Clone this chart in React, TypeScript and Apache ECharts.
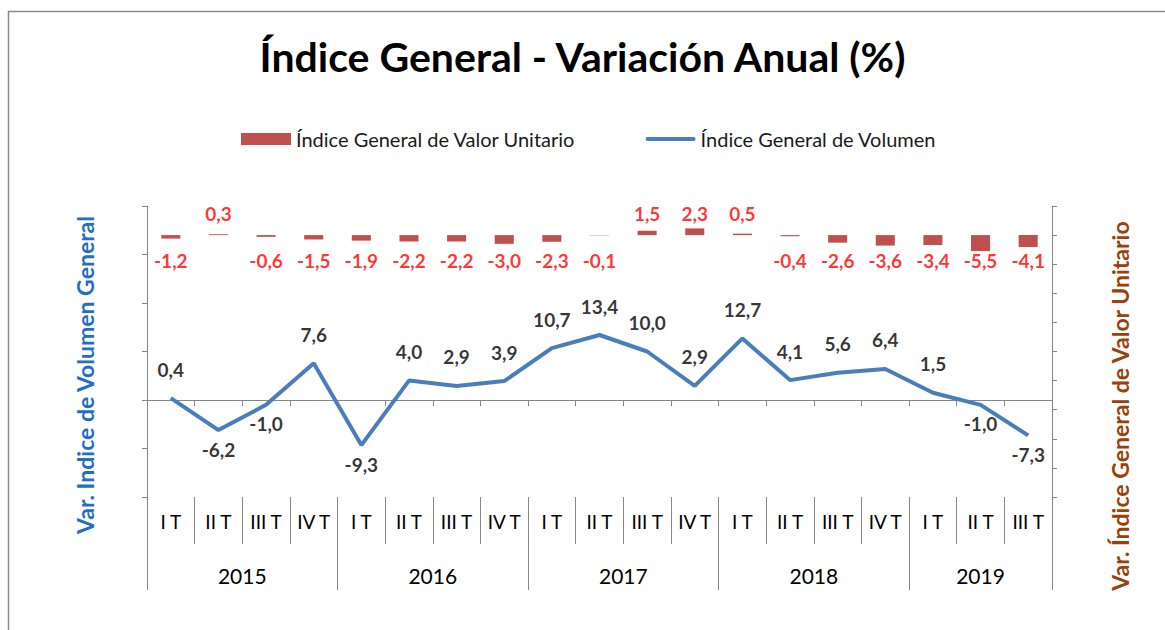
import React, { useEffect, useRef } from "react";
import * as echarts from "echarts";

const quarterLabels = [
  "I T", "II T", "III T", "IV T",
  "I T", "II T", "III T", "IV T",
  "I T", "II T", "III T", "IV T",
  "I T", "II T", "III T", "IV T",
  "I T", "II T", "III T",
];
const years = ["2015", "2016", "2017", "2018", "2019"];
const quartersPerYear = [4, 4, 4, 4, 3];

const volumen = [0.4, -6.2, -1.0, 7.6, -9.3, 4.0, 2.9, 3.9, 10.7, 13.4, 10.0, 2.9, 12.7, 4.1, 5.6, 6.4, 1.5, -1.0, -7.3];
const valorUnitario = [-1.2, 0.3, -0.6, -1.5, -1.9, -2.2, -2.2, -3.0, -2.3, -0.1, 1.5, 2.3, 0.5, -0.4, -2.6, -3.6, -3.4, -5.5, -4.1];

const FONT = "Lato, 'Open Sans', sans-serif";
const fmt = (v: number) => v.toFixed(1).replace(".", ",");

export default function App() {
  const ref = useRef<HTMLDivElement>(null);
  useEffect(() => {
    if (!ref.current) return;
    const chart = echarts.init(ref.current, null, { renderer: "svg" });

    // year row on a half-quarter slot axis
    const nSlots = quarterLabels.length * 2 + 1;
    const yearSlots: string[] = new Array(nSlots).fill("");
    const boundarySlots = new Set<number>();
    let start = 0;
    years.forEach((y, i) => {
      const q = quartersPerYear[i];
      yearSlots[2 * start + q] = y;
      boundarySlots.add(2 * start);
      start += q;
    });
    boundarySlots.add(2 * start);

    const axisGray = "#868686";

    chart.setOption({
      animation: false,
      backgroundColor: "#ffffff",
      title: {
        text: "Índice General - Variación Anual (%)",
        left: "center",
        top: 31,
        textStyle: { fontFamily: FONT, fontSize: 41, fontWeight: "bold", color: "#000" },
      },
      legend: {
        data: [
          { name: "Índice General de Valor Unitario", icon: "rect" },
          {
            name: "Índice General de Volumen",
            icon: "path://M2,0 L48,0 A2,2 0 0 1 48,4 L2,4 A2,2 0 0 1 2,0 Z",
          },
        ],
        symbolKeepAspect: true,
        left: 236,
        top: 124,
        itemWidth: 50,
        itemHeight: 12,
        itemGap: 70,
        textStyle: { fontFamily: FONT, fontSize: 20, color: "#1a1a1a" },
      },
      grid: { left: 147, right: 113, top: 206, bottom: 133, containLabel: false },
      xAxis: [
        {
          type: "category",
          data: quarterLabels,
          axisLine: { show: true, onZero: true, onZeroAxisIndex: 0, lineStyle: { color: axisGray, width: 1 } },
          axisTick: { show: true, length: 6, interval: 0, lineStyle: { color: axisGray } },
          axisLabel: { show: false },
          splitLine: { show: false },
        },
        {
          type: "category",
          data: quarterLabels,
          position: "bottom",
          axisLine: { show: false, onZero: false },
          axisTick: { show: true, length: 47, interval: 0, lineStyle: { color: axisGray } },
          axisLabel: { show: true, interval: 0, margin: 15, fontFamily: FONT, fontSize: 19, color: "#000" },
          splitLine: { show: false },
        },
        {
          type: "category",
          data: yearSlots,
          boundaryGap: false,
          position: "bottom",
          axisLine: { show: false, onZero: false },
          axisTick: {
            show: true,
            length: 93,
            interval: (i: number) => boundarySlots.has(i),
            lineStyle: { color: axisGray },
          },
          axisLabel: { show: true, interval: 0, margin: 68, fontFamily: FONT, fontSize: 21, color: "#000" },
          splitLine: { show: false },
        },
      ],
      yAxis: [
        {
          type: "value",
          min: -20,
          max: 40,
          interval: 10,
          position: "left",
          axisLine: { show: true, lineStyle: { color: axisGray } },
          axisTick: { show: true, length: 5, lineStyle: { color: axisGray } },
          axisLabel: { show: false },
          splitLine: { show: false },
        },
        {
          type: "value",
          min: -90,
          max: 10,
          interval: 10,
          position: "right",
          axisLine: { show: true, lineStyle: { color: axisGray } },
          axisTick: { show: true, length: 5, lineStyle: { color: axisGray } },
          axisLabel: { show: false },
          splitLine: { show: false },
        },
      ],
      series: [
        {
          name: "Índice General de Valor Unitario",
          type: "bar",
          xAxisIndex: 0,
          yAxisIndex: 1,
          data: valorUnitario,
          barWidth: "40%",
          itemStyle: { color: "#C0504D" },
        },
        {
          name: "Índice General de Volumen",
          type: "line",
          xAxisIndex: 0,
          yAxisIndex: 0,
          data: volumen,
          symbol: "none",
          showSymbol: false,
          lineStyle: { color: "#4A7EBB", width: 4 },
          itemStyle: { color: "#4A7EBB" },
          z: 3,
        },
        {
          name: "volLabels",
          type: "scatter",
          xAxisIndex: 0,
          yAxisIndex: 0,
          silent: true,
          symbolSize: 1,
          itemStyle: { color: "transparent" },
          data: volumen.map((v) => ({
            value: v,
            label: { position: v < 0 ? "bottom" : "top", distance: v < 0 ? 9 : 19 },
          })),
          label: {
            show: true,
            fontFamily: FONT,
            fontSize: 19,
            fontWeight: "bold",
            color: "#000",
            formatter: (p: any) => fmt(volumen[p.dataIndex]),
          },
          z: 4,
        },
        {
          name: "barLabels",
          type: "scatter",
          xAxisIndex: 0,
          yAxisIndex: 1,
          silent: true,
          symbolSize: 1,
          itemStyle: { color: "transparent" },
          data: valorUnitario.map((v) => ({
            value: 0,
            label: { position: v >= 0 ? "top" : "bottom", distance: v >= 0 ? 12 : 15 },
          })),
          label: {
            show: true,
            fontFamily: FONT,
            fontSize: 19,
            fontWeight: "bold",
            color: "#FF0000",
            formatter: (p: any) => fmt(valorUnitario[p.dataIndex]),
          },
          z: 4,
        },
      ],
      graphic: [
        {
          type: "rect",
          silent: true,
          z: -10,
          shape: { x: 8.5, y: 11.5, width: 1200, height: 700 },
          style: { fill: "none", stroke: "#8c8c8c", lineWidth: 1.5 },
        },
        {
          type: "text",
          x: 85,
          y: 375,
          rotation: Math.PI / 2,
          style: {
            text: "Var. Indice de Volumen General",
            fontFamily: FONT,
            fontSize: 23,
            fontWeight: "bold",
            fill: "#1F6FC5",
            align: "center",
            verticalAlign: "middle",
          },
        },
        {
          type: "text",
          x: 1120,
          y: 406,
          rotation: Math.PI / 2,
          style: {
            text: "Var. Índice General de Valor Unitario",
            fontFamily: FONT,
            fontSize: 23,
            fontWeight: "bold",
            fill: "#9C3F0A",
            align: "center",
            verticalAlign: "middle",
          },
        },
      ],
    });
    return () => chart.dispose();
  }, []);
  return (
    <div
      ref={ref}
      style={{ position: "fixed", left: 0, top: 0, width: 1165, height: 630 }}
    />
  );
}
